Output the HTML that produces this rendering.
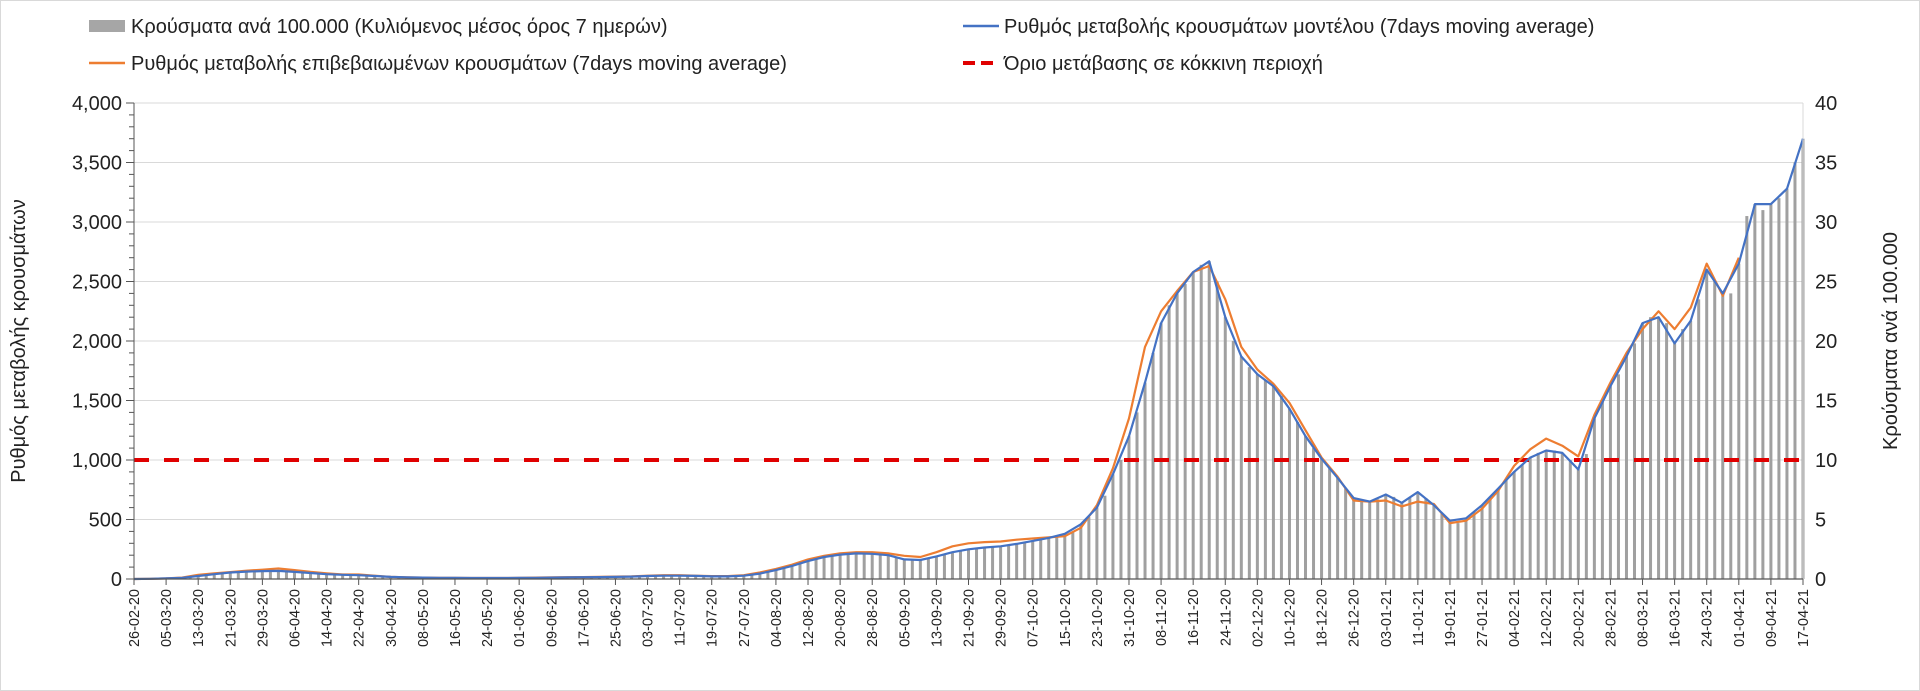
<!DOCTYPE html>
<html><head><meta charset="utf-8"><style>
body{margin:0;background:#fff;}
#wrap{position:relative;width:1920px;height:691px;overflow:hidden;box-sizing:border-box;border:1px solid #d9d9d9;}
svg text{font-family:"Liberation Sans","DejaVu Sans",sans-serif;fill:#222;}
</style></head><body>
<div id="wrap">
<svg id="chart" width="1920" height="691">
  <g>
    <g>
      <rect x="88" y="19" width="36" height="12" fill="#a6a6a6"/>
      <text x="130" y="32" font-size="20">Κρούσματα ανά 100.000 (Κυλιόμενος μέσος όρος 7 ημερών)</text>
    </g>
    <g>
      <line x1="962" y1="25" x2="998" y2="25" stroke="#4472c4" stroke-width="2.5"/>
      <text x="1003" y="32" font-size="20">Ρυθμός μεταβολής κρουσμάτων μοντέλου (7days moving average)</text>
    </g>
    <g>
      <line x1="88" y1="62" x2="124" y2="62" stroke="#ed7d31" stroke-width="2.5"/>
      <text x="130" y="69" font-size="20">Ρυθμός μεταβολής επιβεβαιωμένων κρουσμάτων (7days moving average)</text>
    </g>
    <g>
      <line x1="962" y1="62" x2="998" y2="62" stroke="#e00000" stroke-width="4" stroke-dasharray="12 6"/>
      <text x="1003" y="69" font-size="20">Όριο μετάβασης σε κόκκινη περιοχή</text>
    </g>
  </g>
  <text font-size="20" text-anchor="middle" transform="translate(24,340) rotate(-90)">Ρυθμός μεταβολής κρουσμάτων</text>
  <text font-size="20" text-anchor="middle" transform="translate(1896,340) rotate(-90)">Κρούσματα ανά 100.000</text>
  <g id="grid"></g>
  <g id="bars"></g>
  <g id="lines"></g>
  <g id="axes"></g>
</svg>
</div>
<script>
const lineDays = [0,4,8,12,16,20,24,28,32,36,40,44,48,52,56,60,64,68,72,76,80,84,88,92,96,100,104,108,112,116,120,124,128,132,136,140,144,148,152,156,160,164,168,172,176,180,184,188,192,196,200,204,208,212,216,220,224,228,232,236,240,244,248,252,256,260,264,268,272,276,280,284,288,292,296,300,304,308,312,316,320,324,328,332,336,340,344,348,352,356,360,364,368,372,376,380,384,388,392,396,400,404,408,412,416];
const modelRate = [0,2,5,10,25,40,55,62,66,68,60,50,40,35,32,25,18,14,12,10,9,8,8,8,9,10,12,14,15,16,18,20,25,28,28,26,22,22,28,45,75,110,150,185,205,215,212,200,165,160,190,225,250,265,275,295,320,345,380,460,600,880,1200,1650,2150,2400,2580,2670,2200,1870,1720,1620,1430,1200,1010,850,680,650,710,640,730,620,490,510,620,760,900,1020,1080,1060,920,1350,1620,1870,2150,2200,1980,2170,2600,2400,2650,3150,3150,3280,3700];
const confirmedRate = [0,2,5,12,35,48,58,70,78,88,75,60,48,38,38,28,18,14,12,10,9,8,8,8,10,12,14,15,16,18,20,22,28,32,32,28,24,24,32,55,85,120,165,195,215,225,225,215,195,185,225,275,300,310,315,330,340,350,360,430,620,930,1350,1950,2250,2420,2580,2630,2350,1950,1760,1640,1480,1250,1020,860,660,650,660,610,650,630,470,490,590,740,950,1090,1180,1120,1030,1380,1650,1900,2100,2250,2100,2280,2650,2380,2700];
const barStep = 2;
const casesPer100k = [
0,0,0,0.05,0.05,0.1,0.1,0.15,0.2,0.3,
0.4,0.45,0.5,0.55,0.6,0.6,0.65,0.65,0.65,0.65,
0.6,0.55,0.5,0.45,0.4,0.38,0.35,0.33,0.3,0.28,
0.25,0.2,0.18,0.15,0.14,0.13,0.12,0.11,0.1,0.1,
0.09,0.09,0.08,0.08,0.08,0.08,0.08,0.08,0.09,0.09,
0.1,0.11,0.12,0.13,0.14,0.14,0.15,0.15,0.16,0.17,
0.18,0.19,0.2,0.22,0.25,0.27,0.28,0.28,0.28,0.27,
0.26,0.25,0.22,0.22,0.22,0.22,0.28,0.32,0.45,0.6,
0.75,0.9,1.1,1.3,1.5,1.65,1.85,1.95,2.05,2.1,
2.15,2.15,2.12,2.05,2.0,1.85,1.7,1.62,1.6,1.7,
1.9,2.05,2.25,2.4,2.5,2.58,2.65,2.7,2.75,2.8,
2.95,3.1,3.2,3.3,3.45,3.55,3.8,4.0,4.6,5.2,
6.0,7.0,8.8,10.0,12.0,14.0,16.5,19.0,21.5,23.0,
24.0,24.8,25.8,26.4,26.7,25.0,22.0,20.0,18.7,17.8,
17.2,16.7,16.2,15.4,14.3,13.2,12.0,11.0,10.1,9.3,
8.5,7.6,6.8,6.5,6.5,6.7,7.1,6.9,6.4,6.8,
7.3,6.8,6.2,5.5,4.9,4.7,5.1,5.6,6.2,6.9,
7.6,8.3,9.0,9.6,10.2,10.6,10.8,10.8,10.6,10.0,
9.2,10.5,13.5,15.0,16.2,17.2,18.7,19.8,21.5,22.0,
22.0,21.5,19.8,21.0,21.7,23.5,26.0,25.0,24.0,24.0,
26.5,30.5,31.5,31.0,31.5,32.0,32.8,35.0,37.0];
const redThreshold = 1000;
const leftTicks = [0,500,1000,1500,2000,2500,3000,3500,4000];
const leftTickLabels = ["0","500","1,000","1,500","2,000","2,500","3,000","3,500","4,000"];
const rightTicks = [0,5,10,15,20,25,30,35,40];
const startDate = [2020,1,26];
const totalDays = 416;
const dateTickStep = 8;

const NS="http://www.w3.org/2000/svg";
const X0=133, X1=1802, Y0=578, Y1=102;
const x = d => X0 + d*(X1-X0)/totalDays;
const yL = v => Y0 - v*(Y0-Y1)/4000;
const yR = v => Y0 - v*(Y0-Y1)/40;
function mk(tag, attrs, parent){const e=document.createElementNS(NS,tag);for(const k in attrs)e.setAttribute(k,attrs[k]);parent.appendChild(e);return e;}
const grid=document.getElementById('grid'), bars=document.getElementById('bars'), lines=document.getElementById('lines'), axes=document.getElementById('axes');

leftTicks.forEach((t,i)=>{
  if(t>0){const g=mk('line',{x1:X0,x2:X1,y1:yL(t),y2:yL(t),stroke:'#d9d9d9','stroke-width':1},grid);
  
  }
  const tx=mk('text',{x:X0-12,y:yL(t)+7,'font-size':20,'text-anchor':'end'},axes);
  tx.textContent=leftTickLabels[i];
  
  
});
for(let v=0;v<=4000;v+=100){
  const len = v%500===0?8:5;
  const tk=mk('line',{x1:X0-len,x2:X0,y1:yL(v),y2:yL(v),stroke:'#555','stroke-width':1},axes);
  
  
}
mk('line',{x1:X0,x2:X0,y1:Y1,y2:Y0,stroke:'#555','stroke-width':1},axes);
mk('line',{x1:X1,x2:X1,y1:Y1,y2:Y0,stroke:'#d9d9d9','stroke-width':1},axes);
rightTicks.forEach(t=>{
  const tx=mk('text',{x:X1+12,y:yR(t)+7,'font-size':20},axes);
  tx.textContent=String(t);
  
  
});

casesPer100k.forEach((v,i)=>{
  const d=i*barStep;
  const b=mk('rect',{x:x(d)-1.5,y:yR(v),width:3,height:Math.max(0,Y0-yR(v)),fill:'#a0a0a0'},bars);
  
  
});

mk('line',{x1:X0,x2:X1,y1:Y0,y2:Y0,stroke:'#555','stroke-width':1.2},axes);

const rl=mk('line',{x1:X0,x2:X1,y1:yL(redThreshold),y2:yL(redThreshold),stroke:'#e00000','stroke-width':4,'stroke-dasharray':'15 15'},lines);



const pts1=modelRate.map((v,i)=>x(lineDays[i]).toFixed(1)+','+yL(v).toFixed(1)).join(' ');
const pts2=confirmedRate.map((v,i)=>x(lineDays[i]).toFixed(1)+','+yL(v).toFixed(1)).join(' ');
const l2=mk('polyline',{points:pts2,fill:'none',stroke:'#ed7d31','stroke-width':2.2,'stroke-linejoin':'round'},lines);


const l1=mk('polyline',{points:pts1,fill:'none',stroke:'#4472c4','stroke-width':2.2,'stroke-linejoin':'round'},lines);



const pad=n=>String(n).padStart(2,'0');
for(let d=0; d<=totalDays; d+=dateTickStep){
  const dt=new Date(Date.UTC(startDate[0],startDate[1],startDate[2]+d));
  const lab=pad(dt.getUTCDate())+'-'+pad(dt.getUTCMonth()+1)+'-'+String(dt.getUTCFullYear()).slice(2);
  const tk=mk('line',{x1:x(d),x2:x(d),y1:Y0,y2:Y0+6,stroke:'#555','stroke-width':1},axes);
  
  
  const tx=mk('text',{'font-size':14.5,'text-anchor':'end',transform:`translate(${x(d)+5},${Y0+10}) rotate(-90)`},axes);
  tx.textContent=lab;
  
  
}
</script>
</body></html>
